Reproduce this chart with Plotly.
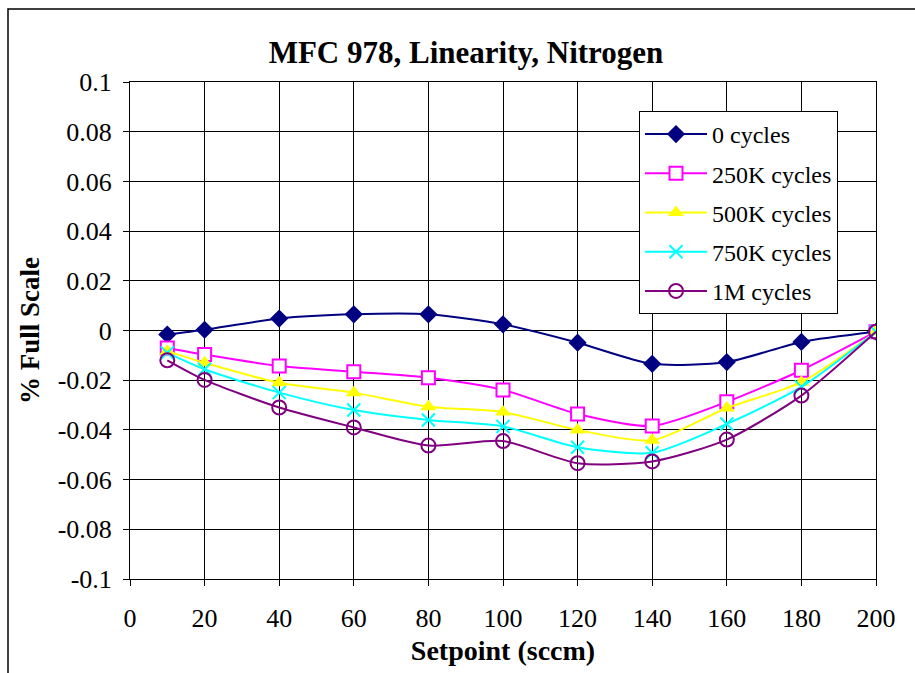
import plotly.graph_objects as go

setpoint = [10, 20, 40, 60, 80, 100, 120, 140, 160, 180, 200]
cycles_0 = [-0.0016, 0.0003, 0.0048, 0.0065, 0.0065, 0.0025, -0.0049, -0.0134, -0.0127, -0.0046, -0.0005]
cycles_250k = [-0.0070, -0.0097, -0.0143, -0.0166, -0.0190, -0.0239, -0.0336, -0.0384, -0.0287, -0.0160, -0.0005]
cycles_500k = [-0.0083, -0.0130, -0.0210, -0.0250, -0.0307, -0.0328, -0.0400, -0.0442, -0.0312, -0.0208, -0.0005]
cycles_750k = [-0.0090, -0.0156, -0.0250, -0.0320, -0.0360, -0.0386, -0.0470, -0.0492, -0.0376, -0.0227, -0.0005]
cycles_1m = [-0.0120, -0.0199, -0.0310, -0.0390, -0.0463, -0.0445, -0.0534, -0.0527, -0.0439, -0.0262, -0.0005]

series_names = ["0 cycles", "250K cycles", "500K cycles", "750K cycles", "1M cycles"]
y_tick_vals = [0.1, 0.08, 0.06, 0.04, 0.02, 0, -0.02, -0.04, -0.06, -0.08, -0.1]
y_tick_text = ["0.1", "0.08", "0.06", "0.04", "0.02", "0", "-0.02", "-0.04", "-0.06", "-0.08", "-0.1"]
x_tick_vals = [0, 20, 40, 60, 80, 100, 120, 140, 160, 180, 200]
x_tick_text = ["0", "20", "40", "60", "80", "100", "120", "140", "160", "180", "200"]

FONT = "Liberation Serif"

styles = [
    dict(color="#000080", marker=dict(symbol="diamond", size=14, color="#000080")),
    dict(color="#FF00FF", marker=dict(symbol="square", size=13, color="white", line=dict(color="#FF00FF", width=2))),
    dict(color="#FFFF00", marker=dict(symbol="triangle-up", size=14, color="#FFFF00")),
    dict(color="#00FFFF", marker=dict(symbol="x-thin", size=13, line=dict(color="#00FFFF", width=2))),
    dict(color="#800080", marker=dict(symbol="circle-open", size=14, color="#800080", line=dict(width=2))),
]
all_series = [cycles_0, cycles_250k, cycles_500k, cycles_750k, cycles_1m]

fig = go.Figure()
for i, (name, ys, st) in enumerate(zip(series_names, all_series, styles)):
    fig.add_trace(go.Scatter(
        x=setpoint, y=ys, name=name, mode="lines+markers",
        line=dict(color=st["color"], width=2, shape="spline", smoothing=0.7),
        marker=st["marker"], legendgroup=f"g{i}",
    ))

W, H = 915, 673
L, R, T, B = 130, 39, 82, 94
pw, ph = W - L - R, H - T - B

fig.update_layout(
    width=W, height=H,
    margin=dict(l=L, r=R, t=T, b=B),
    paper_bgcolor="white", plot_bgcolor="white",
    font=dict(family=FONT, color="black"),
    title=dict(text="<b>MFC 978, Linearity, Nitrogen</b>", font=dict(size=31, family=FONT),
               x=(466) / W, xanchor="center", y=1 - 52 / H, yanchor="middle", xref="container", yref="container"),
    legend=dict(x=(639 - L) / pw, y=(579 - 111) / ph, xanchor="left", yanchor="top",
                bgcolor="white", bordercolor="black", borderwidth=1,
                font=dict(size=24, family=FONT), traceorder="grouped", tracegroupgap=5,
                itemwidth=62),
    showlegend=True,
)
fig.update_xaxes(
    range=[0, 200], tickvals=x_tick_vals, ticktext=x_tick_text,
    showgrid=True, gridcolor="black", gridwidth=1,
    showline=True, linecolor="black", linewidth=1, mirror=True,
    ticks="outside", ticklen=6, tickcolor="black",
    tickfont=dict(size=26, family=FONT), ticklabelstandoff=10,
    zeroline=False,
    title=dict(text="<b>Setpoint (sccm)</b>", font=dict(size=28, family=FONT), standoff=8),
)
fig.update_yaxes(
    range=[-0.1, 0.1], tickvals=y_tick_vals, ticktext=y_tick_text,
    showgrid=True, gridcolor="black", gridwidth=1,
    showline=True, linecolor="black", linewidth=1, mirror=True,
    ticks="outside", ticklen=6, tickcolor="black",
    tickfont=dict(size=26, family=FONT), ticklabelstandoff=6,
    zeroline=False,
    title=dict(text="<b>% Full Scale</b>", font=dict(size=27, family=FONT), standoff=10),
)
fig.add_shape(type="rect", xref="paper", yref="paper",
              x0=(8 - L) / pw, x1=(940 - L) / pw, y0=(579 - 700) / ph, y1=(579 - 9) / ph,
              line=dict(color="black", width=1.5), fillcolor="rgba(0,0,0,0)", layer="below")

fig.write_html("out.html")
